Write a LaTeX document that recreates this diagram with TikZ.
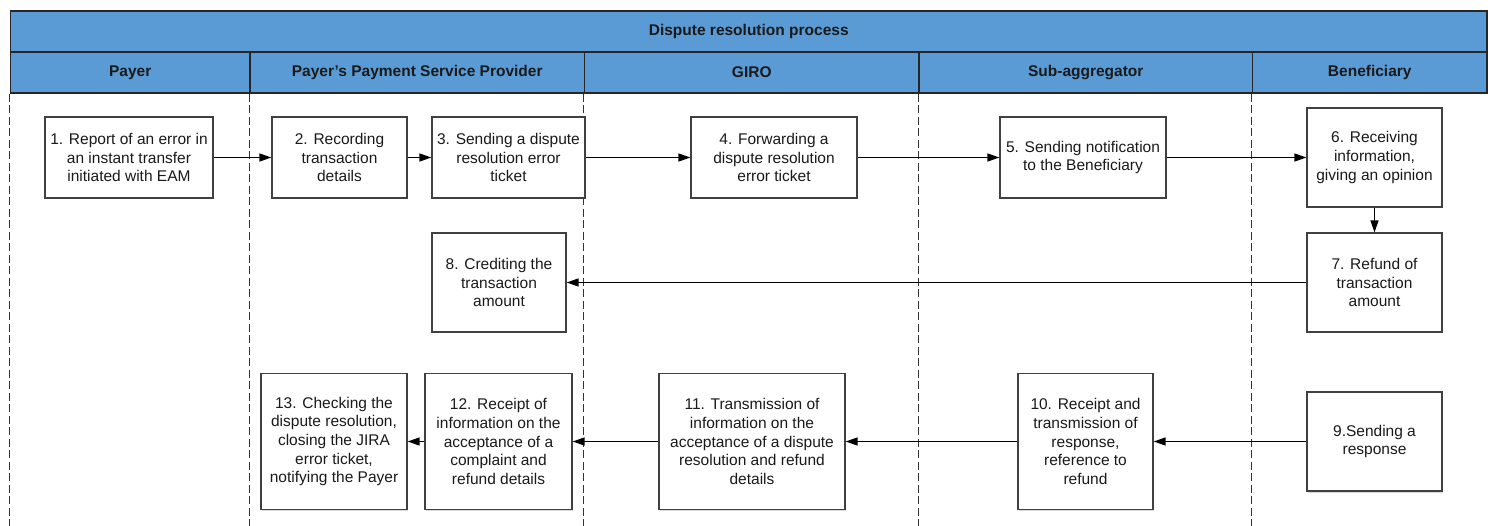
\documentclass[tikz,border=0pt]{standalone}
\usepackage{fontspec}
\setmainfont{Liberation Sans}
\usetikzlibrary{arrows.meta,shadows}
\definecolor{lanefill}{HTML}{5B9BD5}
\definecolor{edgecol}{HTML}{262626}
\definecolor{inkcol}{HTML}{1A1A1A}
\begin{document}
\begin{tikzpicture}[x=1pt,y=-1pt,
  hdr/.style={draw=edgecol, line width=1.5pt, fill=lanefill, inner sep=0pt,
    font=\bfseries\fontsize{15.5}{18}\selectfont, text=inkcol},
  stepbox/.style={draw=black!75, line width=1.2pt, fill=white, align=center,
    inner sep=0pt, font=\fontsize{15.5}{18.7}\selectfont, text=inkcol,
    drop shadow={shadow xshift=1.2pt, shadow yshift=-1.5pt, fill=black, opacity=0.15}},
  lane/.style={draw=black!80, line width=1.2pt, dash pattern=on 8pt off 3.5pt},
  flow/.style={draw=black, line width=1.4pt, -{Triangle[length=12pt,width=8pt]}}
]
\useasboundingbox (0,0) rectangle (1488,526);
\coordinate (bottom) at (0,526);

% title bar and swimlane headers
\node[hdr, minimum width=1476.5pt, minimum height=41pt] (title) at (748.75,31.5) {Dispute resolution process};
\node[hdr, minimum width=239.5pt, minimum height=41pt] (payer) at (130.25,72.5) {Payer};
\node[hdr, minimum width=334.5pt, minimum height=41pt] (psp) at (417.25,72.5) {Payer’s Payment Service Provider};
\node[hdr, minimum width=334.5pt, minimum height=41pt] (giro) at (751.75,72.5) {GIRO};
\node[hdr, minimum width=333.5pt, minimum height=41pt] (sub) at (1085.75,72.5) {Sub-aggregator};
\node[hdr, minimum width=234.5pt, minimum height=41pt] (ben) at (1369.75,72.5) {Beneficiary};

% lane separators
\draw[lane] (payer.south west) -- (payer.south west |- bottom);
\draw[lane] (psp.south west) -- (psp.south west |- bottom);
\draw[lane] (giro.south west) -- (giro.south west |- bottom);
\draw[lane] (sub.south west) -- (sub.south west |- bottom);
\draw[lane] (ben.south west) -- (ben.south west |- bottom);

% process steps
\node[stepbox, minimum width=168pt, minimum height=81pt] (s1) at (129,157.5)
  {1. Report of an error in\\an instant transfer\\initiated with EAM};
\node[stepbox, minimum width=135pt, minimum height=81pt] (s2) at (339.5,157.5)
  {2. Recording\\transaction\\details};
\node[stepbox, minimum width=153pt, minimum height=81pt] (s3) at (508.5,157.5)
  {3. Sending a dispute\\resolution error\\ticket};
\node[stepbox, minimum width=166pt, minimum height=81pt] (s4) at (774,157.5)
  {4. Forwarding a\\dispute resolution\\error ticket};
\node[stepbox, minimum width=166pt, minimum height=81pt] (s5) at (1083,157.5)
  {5. Sending notification\\to the Beneficiary};
\node[stepbox, minimum width=135pt, minimum height=99pt] (s6) at (1374.5,157.5)
  {6. Receiving\\information,\\giving an opinion};
\node[stepbox, minimum width=135pt, minimum height=99pt] (s7) at (1374.5,282.5)
  {7. Refund of\\transaction\\amount};
\node[stepbox, minimum width=134pt, minimum height=99pt] (s8) at (499,282.5)
  {8. Crediting the\\transaction\\amount};
\node[stepbox, minimum width=135pt, minimum height=99pt] (s9) at (1374.5,441.5)
  {9.Sending a\\response};
\node[stepbox, minimum width=135pt, minimum height=136pt] (s10) at (1085.5,441.5)
  {10. Receipt and\\transmission of\\response,\\reference to\\refund};
\node[stepbox, minimum width=186pt, minimum height=136pt] (s11) at (752,441.5)
  {11. Transmission of\\information on the\\acceptance of a dispute\\resolution and refund\\details};
\node[stepbox, minimum width=147pt, minimum height=136pt] (s12) at (498.5,441.5)
  {12. Receipt of\\information on the\\acceptance of a\\complaint and\\refund details};
\node[stepbox, minimum width=146pt, minimum height=136pt] (s13) at (334,441.5)
  {13. Checking the\\dispute resolution,\\closing the JIRA\\error ticket,\\notifying the Payer};

% flow
\draw[flow] (s1.east) -- (s2.west);
\draw[flow] (s2.east) -- (s3.west);
\draw[flow] (s3.east) -- (s4.west);
\draw[flow] (s4.east) -- (s5.west);
\draw[flow] (s5.east) -- (s6.west);
\draw[flow] (s6.south) -- (s7.north);
\draw[flow] (s7.west) -- (s8.east);
\draw[flow] (s9.west) -- (s10.east);
\draw[flow] (s10.west) -- (s11.east);
\draw[flow] (s11.west) -- (s12.east);
\draw[flow] (s12.west) -- (s13.east);
\end{tikzpicture}
\end{document}
